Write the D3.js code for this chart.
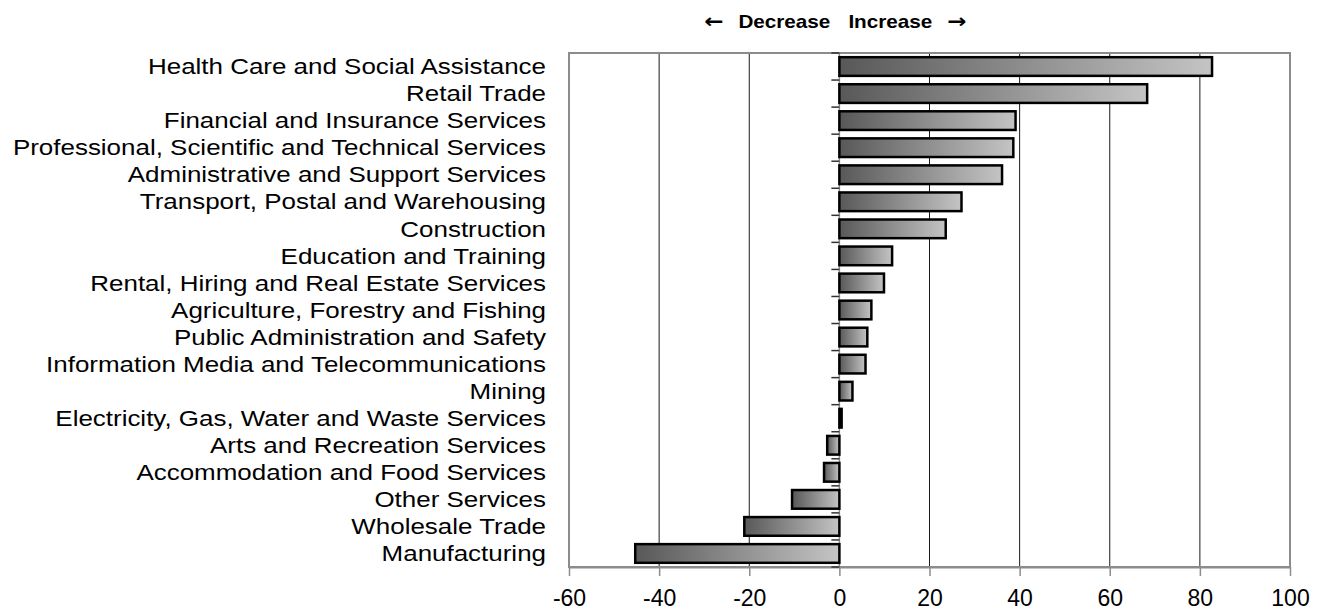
<!DOCTYPE html>
<html>
<head>
<meta charset="utf-8">
<script src="https://cdn.jsdelivr.net/npm/d3@7"></script>
<style>
  body { margin: 0; background: #fff; }
  text { font-family: "Liberation Sans", Arial, sans-serif; fill: #000; }
</style>
</head>
<body>
<div id="container"></div>
<script>
const industries = [
    'Health Care and Social Assistance', 'Retail Trade', 'Financial and Insurance Services',
    'Professional, Scientific and Technical Services', 'Administrative and Support Services',
    'Transport, Postal and Warehousing', 'Construction', 'Education and Training',
    'Rental, Hiring and Real Estate Services', 'Agriculture, Forestry and Fishing',
    'Public Administration and Safety', 'Information Media and Telecommunications',
    'Mining', 'Electricity, Gas, Water and Waste Services', 'Arts and Recreation Services',
    'Accommodation and Food Services', 'Other Services', 'Wholesale Trade', 'Manufacturing'
];
const changes = [82.7, 68.3, 39.1, 38.6, 36.1, 27.1, 23.6, 11.7, 9.9, 7.1, 6.2, 5.8, 2.9, 0.5,
    -2.7, -3.4, -10.5, -21.1, -45.3];
const xTicks = [-60, -40, -20, 0, 20, 40, 60, 80, 100];
const headerLeft = 'Decrease';
const headerRight = 'Increase';

const margin = { top: 53, right: 35, bottom: 45, left: 569 };
const width = 1325 - margin.left - margin.right;
const height = 612 - margin.top - margin.bottom;
const stretch = 1.18; // label text looks horizontally stretched

const svg = d3.select("#container")
    .append("svg")
    .attr("width", 1325)
    .attr("height", 612);

const grad = svg.append("defs").append("linearGradient")
    .attr("id", "barGrad")
    .attr("x1", "0%").attr("x2", "100%").attr("y1", "0%").attr("y2", "0%");
grad.append("stop").attr("offset", "0%").attr("stop-color", "#585858");
grad.append("stop").attr("offset", "100%").attr("stop-color", "#c4c4c4");

const g = svg.append("g")
    .attr("transform", `translate(${margin.left},${margin.top})`);

const xScale = d3.scaleLinear()
    .domain([-60, 100])
    .range([0, width]);

const yScale = d3.scaleBand()
    .domain(industries)
    .range([0, height])
    .paddingInner(0.31)
    .paddingOuter(0.155);

// gridlines
g.selectAll(".grid")
    .data(xTicks.filter(d => d > -60 && d < 100 && d !== 0))
    .enter()
    .append("line")
    .attr("class", "grid")
    .attr("x1", d => xScale(d)).attr("x2", d => xScale(d))
    .attr("y1", 0).attr("y2", height)
    .attr("stroke", "#1a1a1a")
    .attr("stroke-width", 1);

// plot frame
g.append("rect")
    .attr("x", 0).attr("y", 0)
    .attr("width", width).attr("height", height)
    .attr("fill", "none")
    .attr("stroke", "#8c8c8c")
    .attr("stroke-width", 2);

// x axis
const xAxis = d3.axisBottom(xScale)
    .tickValues(xTicks)
    .tickFormat(d => String(d))
    .tickSize(9)
    .tickPadding(14)
    .tickSizeOuter(0);

const xg = g.append("g")
    .attr("transform", `translate(0,${height})`)
    .call(xAxis);
xg.select(".domain").attr("stroke", "#8c8c8c").attr("stroke-width", 2);
xg.selectAll(".tick line").attr("stroke", "#8c8c8c").attr("stroke-width", 1.5);
xg.selectAll(".tick text")
    .style("font-size", "23px")
    .style("font-family", '"Liberation Sans", Arial, sans-serif')
    .attr("fill", "#000");

// zero axis with category ticks
const x0 = xScale(0);
g.append("line")
    .attr("x1", x0).attr("x2", x0)
    .attr("y1", 0).attr("y2", height)
    .attr("stroke", "#8c8c8c")
    .attr("stroke-width", 1.5);

g.selectAll(".cat-tick")
    .data(d3.range(industries.length + 1))
    .enter()
    .append("line")
    .attr("class", "cat-tick")
    .attr("x1", x0 - 8).attr("x2", x0)
    .attr("y1", i => i * yScale.step())
    .attr("y2", i => i * yScale.step())
    .attr("stroke", "#333")
    .attr("stroke-width", 1.5);

// bars
g.selectAll(".bar")
    .data(industries)
    .enter()
    .append("rect")
    .attr("class", "bar")
    .attr("x", (d, i) => xScale(Math.min(0, changes[i])))
    .attr("y", d => yScale(d))
    .attr("width", (d, i) => Math.abs(xScale(changes[i]) - x0))
    .attr("height", yScale.bandwidth())
    .attr("fill", "url(#barGrad)")
    .attr("stroke", "#000")
    .attr("stroke-width", 2.5);

// category labels
g.selectAll(".label")
    .data(industries)
    .enter()
    .append("text")
    .attr("class", "label")
    .attr("transform", d => `translate(-23,${yScale(d) + yScale.bandwidth() / 2}) scale(${stretch},1)`)
    .attr("dy", "0.35em")
    .attr("text-anchor", "end")
    .style("font-size", "22px")
    .text(d => d);

// header: arrows pointing away from zero
const hx = margin.left + x0;
const left = svg.append("text")
    .attr("transform", `translate(${hx - 9},28) scale(1.15,1)`)
    .attr("text-anchor", "end")
    .style("font-size", "18px")
    .style("font-weight", "bold");
left.append("tspan").style("font-family", '"DejaVu Sans", sans-serif').style("font-size", "20px").text("\u2190");
left.append("tspan").attr("dx", 13).text(headerLeft);

const right = svg.append("text")
    .attr("transform", `translate(${hx + 9},28) scale(1.15,1)`)
    .attr("text-anchor", "start")
    .style("font-size", "18px")
    .style("font-weight", "bold");
right.append("tspan").text(headerRight);
right.append("tspan").attr("dx", 13).style("font-family", '"DejaVu Sans", sans-serif').style("font-size", "20px").text("\u2192");
</script>
</body>
</html>
